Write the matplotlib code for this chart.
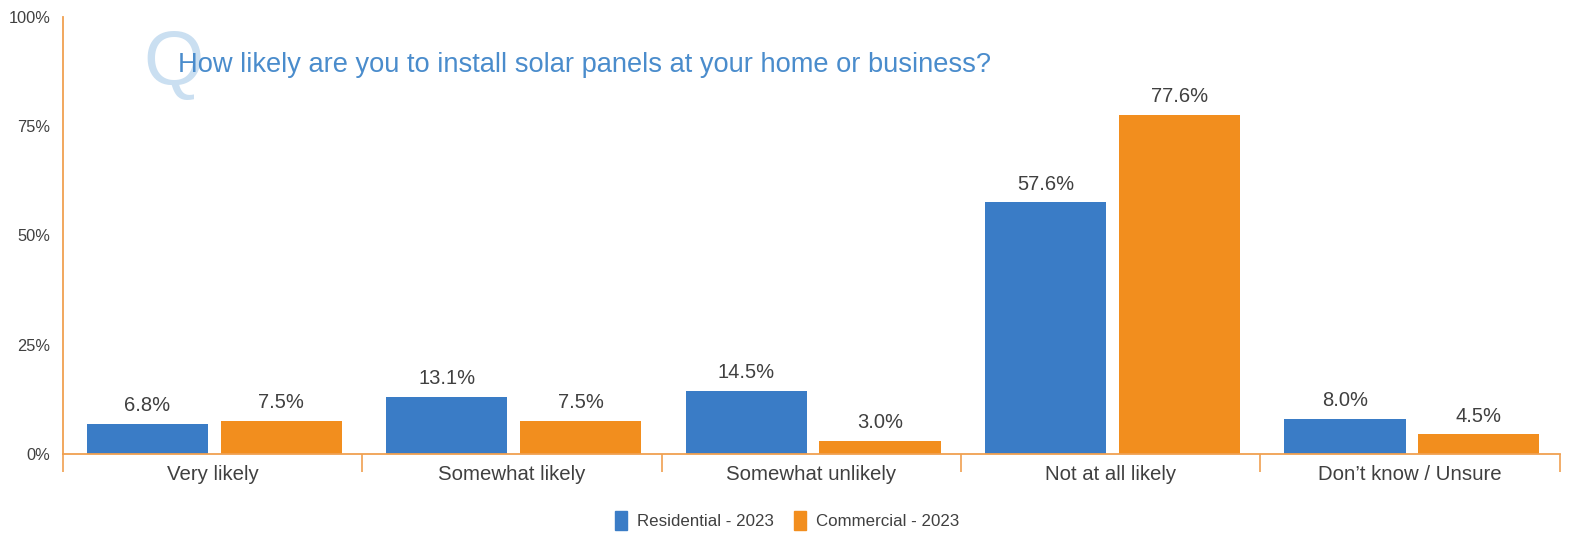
import numpy as np
import matplotlib.pyplot as plt
from matplotlib.patches import Patch

plt.rcParams['font.family'] = ['Liberation Sans', 'DejaVu Sans']

categories = ["Very likely", "Somewhat likely", "Somewhat unlikely",
              "Not at all likely", "Don\u2019t know / Unsure"]
residential = [6.8, 13.1, 14.5, 57.6, 8.0]
commercial = [7.5, 7.5, 3.0, 77.6, 4.5]
series_names = ["Residential - 2023", "Commercial - 2023"]
yticks = [0, 25, 50, 75, 100]

BLUE = "#3a7cc6"
ORANGE = "#f28e1e"
AXIS = "#f0a050"
TEXT = "#404040"

fig = plt.figure(figsize=(15.74, 5.34), dpi=100)
ax = fig.add_axes([0.040, 0.150, 0.951, 0.818])

x = np.arange(len(categories))
width = 0.405
for vals, off, col in [(residential, 0.282, BLUE), (commercial, 0.729, ORANGE)]:
    bars = ax.bar(x + off, vals, width, color=col, zorder=2)
    for b, v in zip(bars, vals):
        ax.text(b.get_x() + b.get_width() / 2, v + 2.0, f"{v:.1f}%",
                ha="center", va="bottom", fontsize=14.5, color=TEXT)

ax.set_xlim(0, len(categories))
ax.set_ylim(0, 100)

# category boundaries as major ticks, names as minor tick labels
ax.set_xticks(np.arange(len(categories) + 1))
ax.set_xticklabels([])
ax.set_xticks(x + 0.5, minor=True)
ax.set_xticklabels(categories, minor=True)
ax.tick_params(axis="x", which="major", length=13, width=1.2, color=AXIS, direction="out")
ax.tick_params(axis="x", which="minor", length=0, labelsize=14.7, labelcolor=TEXT, pad=8)

ax.set_yticks(yticks)
ax.set_yticklabels([f"{t}%" for t in yticks])
ax.tick_params(axis="y", length=0, labelsize=11.8, labelcolor=TEXT, pad=9)

for side in ["top", "right"]:
    ax.spines[side].set_visible(False)
for side in ["left", "bottom"]:
    ax.spines[side].set_color(AXIS)
    ax.spines[side].set_linewidth(1.3)

# question heading with the large faded Q behind it
fig.text(0.091, 0.88, "Q", fontsize=56, color="#cadff1", ha="left", va="center",
         zorder=0)
fig.text(0.113, 0.878, "How likely are you to install solar panels at your home or business?",
         fontsize=19.6, color="#4a8ccc", ha="left", va="center", zorder=1)

handles = [Patch(color=BLUE), Patch(color=ORANGE)]
fig.legend(handles, series_names, loc="center", bbox_to_anchor=(0.5, 0.025),
           ncol=2, frameon=False, fontsize=12.2, labelcolor=TEXT,
           handlelength=0.7, handleheight=1.4, handletextpad=0.6, columnspacing=1.2)

fig.savefig("out.png", dpi=100)
